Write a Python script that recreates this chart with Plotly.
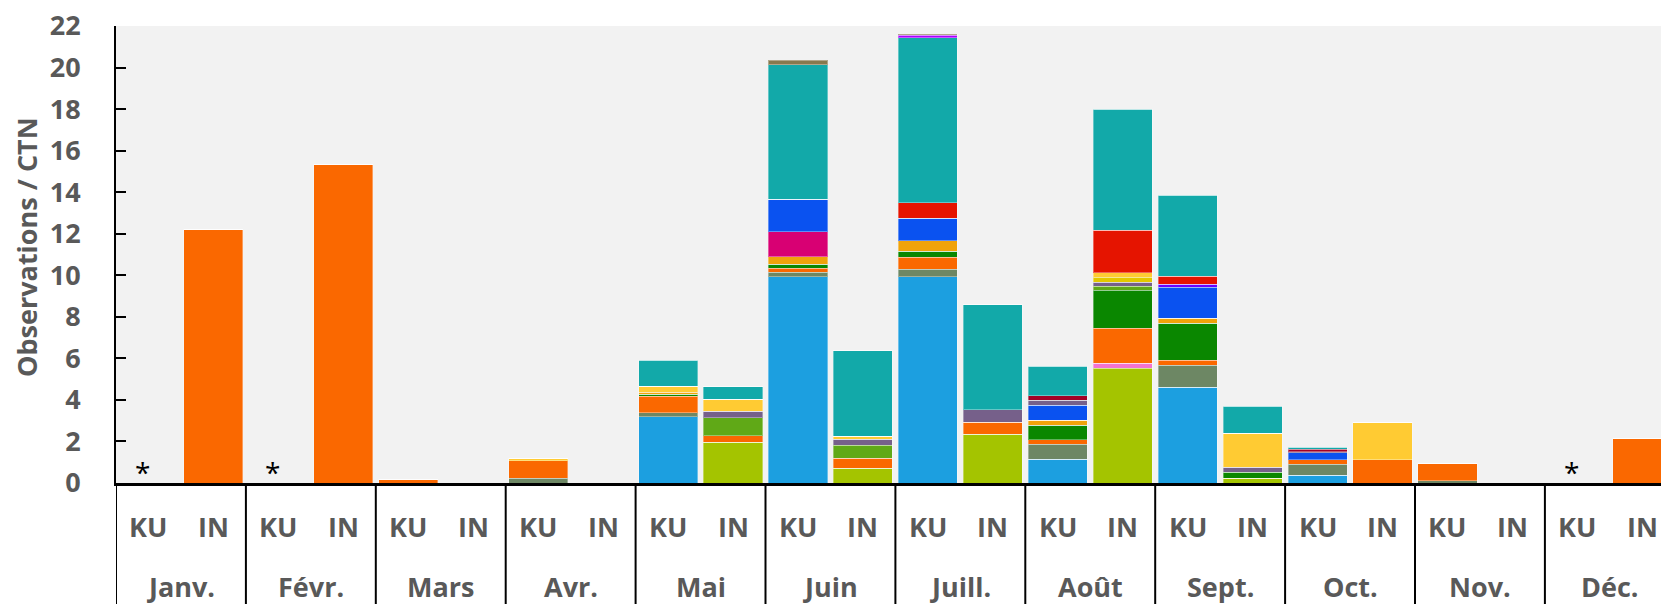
import plotly.graph_objects as go

months = ["Janv.", "Févr.", "Mars", "Avr.", "Mai", "Juin", "Juill.", "Août", "Sept.", "Oct.", "Nov.", "Déc."]
groups = ["KU", "IN"]
categories = [f"{m} {g}" for m in months for g in groups]
starred = ["Janv. KU", "Févr. KU", "Déc. KU"]

#            Jan      Feb      Mar      Apr      May        Jun        Jul        Aug        Sep        Oct        Nov      Dec
cyan      = [0, 0,    0, 0,    0, 0,    0, 0,    3.2, 0,    9.94, 0,   9.94, 0,   1.15, 0,   4.6, 0,    0.37, 0,   0, 0,    0, 0]
lime      = [0, 0,    0, 0,    0, 0,    0, 0,    0, 1.97,   0, 0.72,   0, 2.35,   0, 5.52,   0, 0.24,   0, 0,      0, 0,    0, 0]
pink      = [0, 0,    0, 0,    0, 0,    0, 0,    0, 0,      0, 0,      0, 0,      0, 0.24,   0, 0,      0, 0,      0, 0,    0, 0]
olive     = [0, 0,    0, 0,    0, 0,    0.23, 0, 0.19, 0,   0.21, 0,   0.34, 0,   0.71, 0,   1.08, 0,   0.53, 0,   0.11, 0, 0, 0]
orange    = [0, 12.18, 0, 15.33, 0.18, 0, 0.84, 0, 0.79, 0.3, 0.18, 0.47, 0.59, 0.58, 0.22, 1.68, 0.23, 0, 0.22, 1.12, 0.85, 0, 0, 2.13]
emerald   = [0, 0,    0, 0,    0, 0,    0, 0,    0.09, 0,   0.19, 0,   0.29, 0,   0.71, 1.84, 1.79, 0.27, 0, 0,    0, 0,    0, 0]
green     = [0, 0,    0, 0,    0, 0,    0, 0,    0, 0.88,   0, 0.62,   0, 0,      0, 0.2,    0, 0,      0, 0,      0, 0,    0, 0]
mauve_a   = [0, 0,    0, 0,    0, 0,    0, 0,    0, 0.31,   0, 0.29,   0, 0.59,   0, 0.19,   0, 0.24,   0, 0,      0, 0,    0, 0]
amber     = [0, 0,    0, 0,    0, 0,    0, 0,    0.1, 0,    0.38, 0,   0.51, 0,   0.24, 0,   0.22, 0,   0, 0,      0, 0,    0, 0]
ydark     = [0, 0,    0, 0,    0, 0,    0, 0,    0, 0,      0, 0,      0, 0,      0, 0.24,   0, 0,      0, 0,      0, 0,    0, 0]
yellow    = [0, 0,    0, 0,    0, 0,    0.1, 0,  0.29, 0.57, 0, 0.16,  0, 0,      0, 0.21,   0, 1.64,   0, 1.78,   0, 0,    0, 0]
magenta   = [0, 0,    0, 0,    0, 0,    0, 0,    0, 0,      1.2, 0,    0, 0,      0, 0,      0, 0,      0, 0,      0, 0,    0, 0]
cobalt    = [0, 0,    0, 0,    0, 0,    0, 0,    0, 0,      1.56, 0,   1.07, 0,   0.72, 0,   1.51, 0,   0.33, 0,   0, 0,    0, 0]
indigo    = [0, 0,    0, 0,    0, 0,    0, 0,    0, 0,      0, 0,      0, 0,      0, 0,      0.13, 0,   0, 0,      0, 0,    0, 0]
mauve_b   = [0, 0,    0, 0,    0, 0,    0, 0,    0, 0,      0, 0,      0, 0,      0.24, 0,   0, 0,      0.05, 0,   0, 0,    0, 0]
red       = [0, 0,    0, 0,    0, 0,    0, 0,    0, 0,      0, 0,      0.74, 0,   0, 2.05,   0.4, 0,    0, 0,      0, 0,    0, 0]
crimson   = [0, 0,    0, 0,    0, 0,    0, 0,    0, 0,      0, 0,      0, 0,      0.2, 0,    0, 0,      0.13, 0,   0, 0,    0, 0]
teal      = [0, 0,    0, 0,    0, 0,    0, 0,    1.25, 0.6, 6.48, 4.11, 7.96, 5.06, 1.44, 5.83, 3.89, 1.31, 0.1, 0,  0, 0,    0, 0]
violet    = [0, 0,    0, 0,    0, 0,    0, 0,    0, 0,      0, 0,      0.11, 0,   0, 0,      0, 0,      0, 0,      0, 0,    0, 0]
taupe     = [0, 0,    0, 0,    0, 0,    0, 0,    0, 0,      0.21, 0,   0.06, 0,   0, 0,      0, 0,      0, 0,      0, 0,    0, 0]

series = [
    ("cyan", cyan, "#1C9FE0"), ("lime", lime, "#A4C400"), ("pink", pink, "#F472D0"),
    ("olive", olive, "#6D8764"), ("orange", orange, "#FA6800"), ("emerald", emerald, "#0A8700"),
    ("green", green, "#60A917"), ("mauve A", mauve_a, "#76608A"), ("amber", amber, "#F0A30A"),
    ("yellow dark", ydark, "#E3C800"), ("yellow", yellow, "#FFCB33"), ("magenta", magenta, "#D80073"),
    ("cobalt", cobalt, "#0A52F0"), ("indigo", indigo, "#6A00FF"), ("mauve B", mauve_b, "#76608A"),
    ("red", red, "#E51400"), ("crimson", crimson, "#A20025"), ("teal", teal, "#12A9A9"),
    ("violet", violet, "#AA00FF"), ("taupe", taupe, "#87794E"),
]

FONT = "Open Sans"
GREY = "#595959"
FS = 27

fig = go.Figure()
for name, vals, col in series:
    fig.add_trace(go.Bar(
        x=categories, y=vals, name=name,
        marker=dict(color=col, line=dict(color="rgba(255,255,255,0.35)", width=1)),
    ))

W, H = 1661, 604
L, R, T, B = 116, 0, 26, 121
ph = H - T - B
cat_w = 64.95
x_end = -0.5 + (W - L - R) / cat_w

def py(px):
    return (H - B - px) / ph

annotations = []
for i, c in enumerate(categories):
    annotations.append(dict(x=i, xref="x", y=py(526), yref="paper", text=c.split(" ")[-1],
                            showarrow=False, yanchor="middle", xanchor="center",
                            font=dict(family=FONT, size=FS, color=GREY, weight="bold")))
for k, m in enumerate(months):
    annotations.append(dict(x=2 * k + 0.5, xref="x", y=py(586), yref="paper", text=m,
                            showarrow=False, yanchor="middle", xanchor="center",
                            font=dict(family=FONT, size=FS, color=GREY, weight="bold")))
for s in starred:
    annotations.append(dict(x=categories.index(s), xref="x", y=0.55, yref="y", text="*",
                            showarrow=False, yanchor="middle", xanchor="center", xshift=-6,
                            font=dict(family=FONT, size=28, color="black")))
annotations.append(dict(x=(26 - L) / (W - L - R), xref="paper", y=py(247), yref="paper",
                        text="Observations / CTN", textangle=-90, showarrow=False,
                        xanchor="center", yanchor="middle",
                        font=dict(family=FONT, size=FS, color=GREY, weight="bold")))

shapes = []
for k in range(len(months)):
    shapes.append(dict(type="line", xref="x", yref="paper", x0=2 * k - 0.5, x1=2 * k - 0.5,
                       y0=0, y1=py(H), line=dict(color="black", width=2)))

fig.update_layout(
    width=W, height=H, barmode="stack", bargap=0.09,
    margin=dict(l=L, r=R, t=T, b=B, autoexpand=False),
    plot_bgcolor="#F2F2F2", paper_bgcolor="white", showlegend=False,
    annotations=annotations, shapes=shapes,
    xaxis=dict(type="category", range=[-0.5, x_end], showticklabels=False, ticks="",
               showline=True, linecolor="black", linewidth=3, showgrid=False, zeroline=False),
    yaxis=dict(range=[0, 22], dtick=2, ticks="inside", ticklen=10, tickwidth=2, tickcolor="black",
               showline=True, linecolor="black", linewidth=2, showgrid=False, zeroline=False,
               ticklabelstandoff=28,
               tickfont=dict(family=FONT, size=FS, color=GREY, weight="bold")),
)

fig.write_html("out.html", config={"displayModeBar": False},
               post_script="document.body.style.margin='0';document.body.style.overflow='hidden';")
